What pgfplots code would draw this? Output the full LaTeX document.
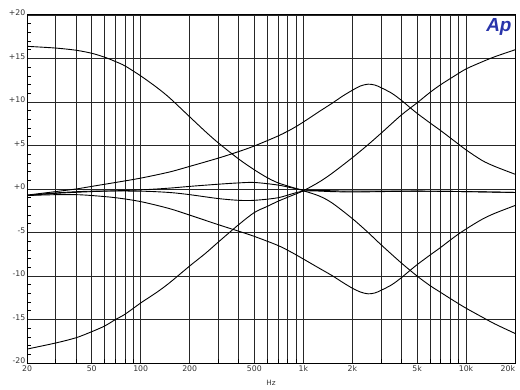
\documentclass[border=0pt]{standalone}
\usepackage{fontspec}
\setmainfont{DejaVu Sans}
\newfontfamily\logofont{Liberation Sans}
\usepackage{pgfplots}
\pgfplotsset{compat=1.18}
\definecolor{apblue}{RGB}{40,52,170}
\begin{document}
\begin{tikzpicture}
\useasboundingbox (-27bp,-27bp) rectangle (493bp,363bp);
\begin{axis}[
  scale only axis, width=488bp, height=348bp,
  xmode=log, xmin=20, xmax=20000, ymin=-20, ymax=20,
  xtick={20,50,100,200,500,1000,2000,5000,10000,20000},
  xticklabels={20,50,100,200,500,1k,2k,5k,10k,\makebox[0pt][r]{20k}},
  minor xtick={30,40,60,70,80,90,300,400,600,700,800,900,3000,4000,6000,7000,8000,9000},
  ytick={-20,-15,...,20},
  yticklabels={-20,-15,-10,-5,+0,+5,+10,+15,+20},
  minor y tick num=4,
  xmajorgrids, xminorgrids, ymajorgrids,
  grid style={black!85, line width=0.7bp},
  minor grid style={black!85, line width=0.7bp},
  axis line style={black, line width=1bp},
  tick style={black, line width=0.7bp},
  tick align=inside,
  major tick length=0bp, minor tick length=4bp,
  xtick pos=bottom, ytick pos=left,
  tick label style={font=\fontsize{7.8}{9}\selectfont, text=black!80},
  xticklabel style={inner sep=2.5bp},
  yticklabel style={inner sep=2bp, xshift=0.5bp, yshift=2bp},
  xlabel={Hz},
  x label style={font=\fontsize{7.3}{8}\selectfont, text=black!80, at={(axis description cs:0.5,0)}, anchor=center, yshift=-20bp},
]
% tilt: boost low, cut high
\addplot[black, line width=0.9bp, smooth] coordinates {
(20,16.4) (30,16.2) (40,15.95) (50,15.6) (60,15.15) (70,14.65) (80,14.15) (100,13.0) (125,11.7) (150,10.5) (200,8.3) (250,6.6) (300,5.3) (400,3.45) (500,2.2) (600,1.3) (700,0.7) (850,0.2) (1000,-0.2) (1250,-0.8) (1500,-1.6) (2000,-3.4) (2500,-5.0) (3000,-6.4) (4000,-8.5) (5000,-10.0) (6000,-11.1) (7000,-11.9) (8500,-12.9) (10000,-13.7) (12500,-14.7) (15000,-15.5) (20000,-16.6)};
% tilt: cut low, boost high
\addplot[black, line width=0.9bp, smooth] coordinates {
(20,-18.4) (30,-17.7) (40,-17.1) (50,-16.4) (60,-15.75) (70,-15.0) (80,-14.4) (100,-13.1) (125,-11.9) (150,-10.8) (200,-8.85) (250,-7.4) (300,-6.1) (400,-4.1) (500,-2.7) (600,-2.0) (700,-1.4) (850,-0.75) (1000,-0.2) (1250,0.8) (1500,1.8) (2000,3.6) (2500,5.1) (3000,6.4) (4000,8.5) (5000,9.9) (6000,11.1) (7000,12.0) (8500,13.0) (10000,13.8) (12500,14.6) (15000,15.2) (20000,16.0)};
% peak boost 2.5k
\addplot[black, line width=0.9bp, smooth] coordinates {
(20,-0.7) (30,-0.3) (40,0.0) (50,0.3) (70,0.75) (100,1.25) (150,1.95) (200,2.6) (300,3.55) (400,4.3) (500,4.95) (700,6.1) (850,6.9) (1000,7.7) (1250,8.9) (1500,9.85) (1750,10.7) (2000,11.35) (2250,11.85) (2500,12.05) (2750,11.95) (3000,11.65) (3500,11.0) (4000,10.2) (4500,9.4) (5000,8.7) (6000,7.6) (7000,6.7) (8500,5.5) (10000,4.5) (12500,3.3) (15000,2.6) (20000,1.7)};
% peak cut 2.5k
\addplot[black, line width=0.9bp, smooth] coordinates {
(20,-0.75) (30,-0.65) (40,-0.65) (50,-0.75) (70,-1.0) (100,-1.45) (150,-2.25) (200,-3.0) (300,-4.1) (400,-4.85) (500,-5.45) (700,-6.5) (850,-7.3) (1000,-8.05) (1250,-9.1) (1500,-9.95) (1750,-10.75) (2000,-11.4) (2250,-11.85) (2500,-12.05) (2750,-11.95) (3000,-11.65) (3500,-11.0) (4000,-10.2) (4500,-9.4) (5000,-8.7) (6000,-7.6) (7000,-6.7) (8500,-5.5) (10000,-4.6) (12500,-3.5) (15000,-2.8) (20000,-1.9)};
% small boost 500
\addplot[black, line width=0.9bp, smooth] coordinates {
(20,-0.75) (30,-0.5) (50,-0.3) (100,-0.1) (150,0.1) (200,0.3) (300,0.55) (400,0.7) (500,0.75) (700,0.45) (1000,-0.1) (1500,-0.2) (2000,-0.25) (5000,-0.25) (10000,-0.3) (20000,-0.4)};
% small cut 500
\addplot[black, line width=0.9bp, smooth] coordinates {
(20,-0.75) (30,-0.45) (50,-0.25) (100,-0.25) (150,-0.4) (200,-0.65) (300,-1.1) (400,-1.3) (500,-1.3) (700,-1.0) (1000,-0.25) (1500,-0.3) (2000,-0.35) (3000,-0.3) (5000,-0.25) (10000,-0.3) (20000,-0.4)};
\node[font=\logofont\fontsize{19}{19}\selectfont\bfseries\itshape, text=apblue] at (rel axis cs:0.967,0.965) {Ap};
\end{axis}
\end{tikzpicture}
\end{document}
